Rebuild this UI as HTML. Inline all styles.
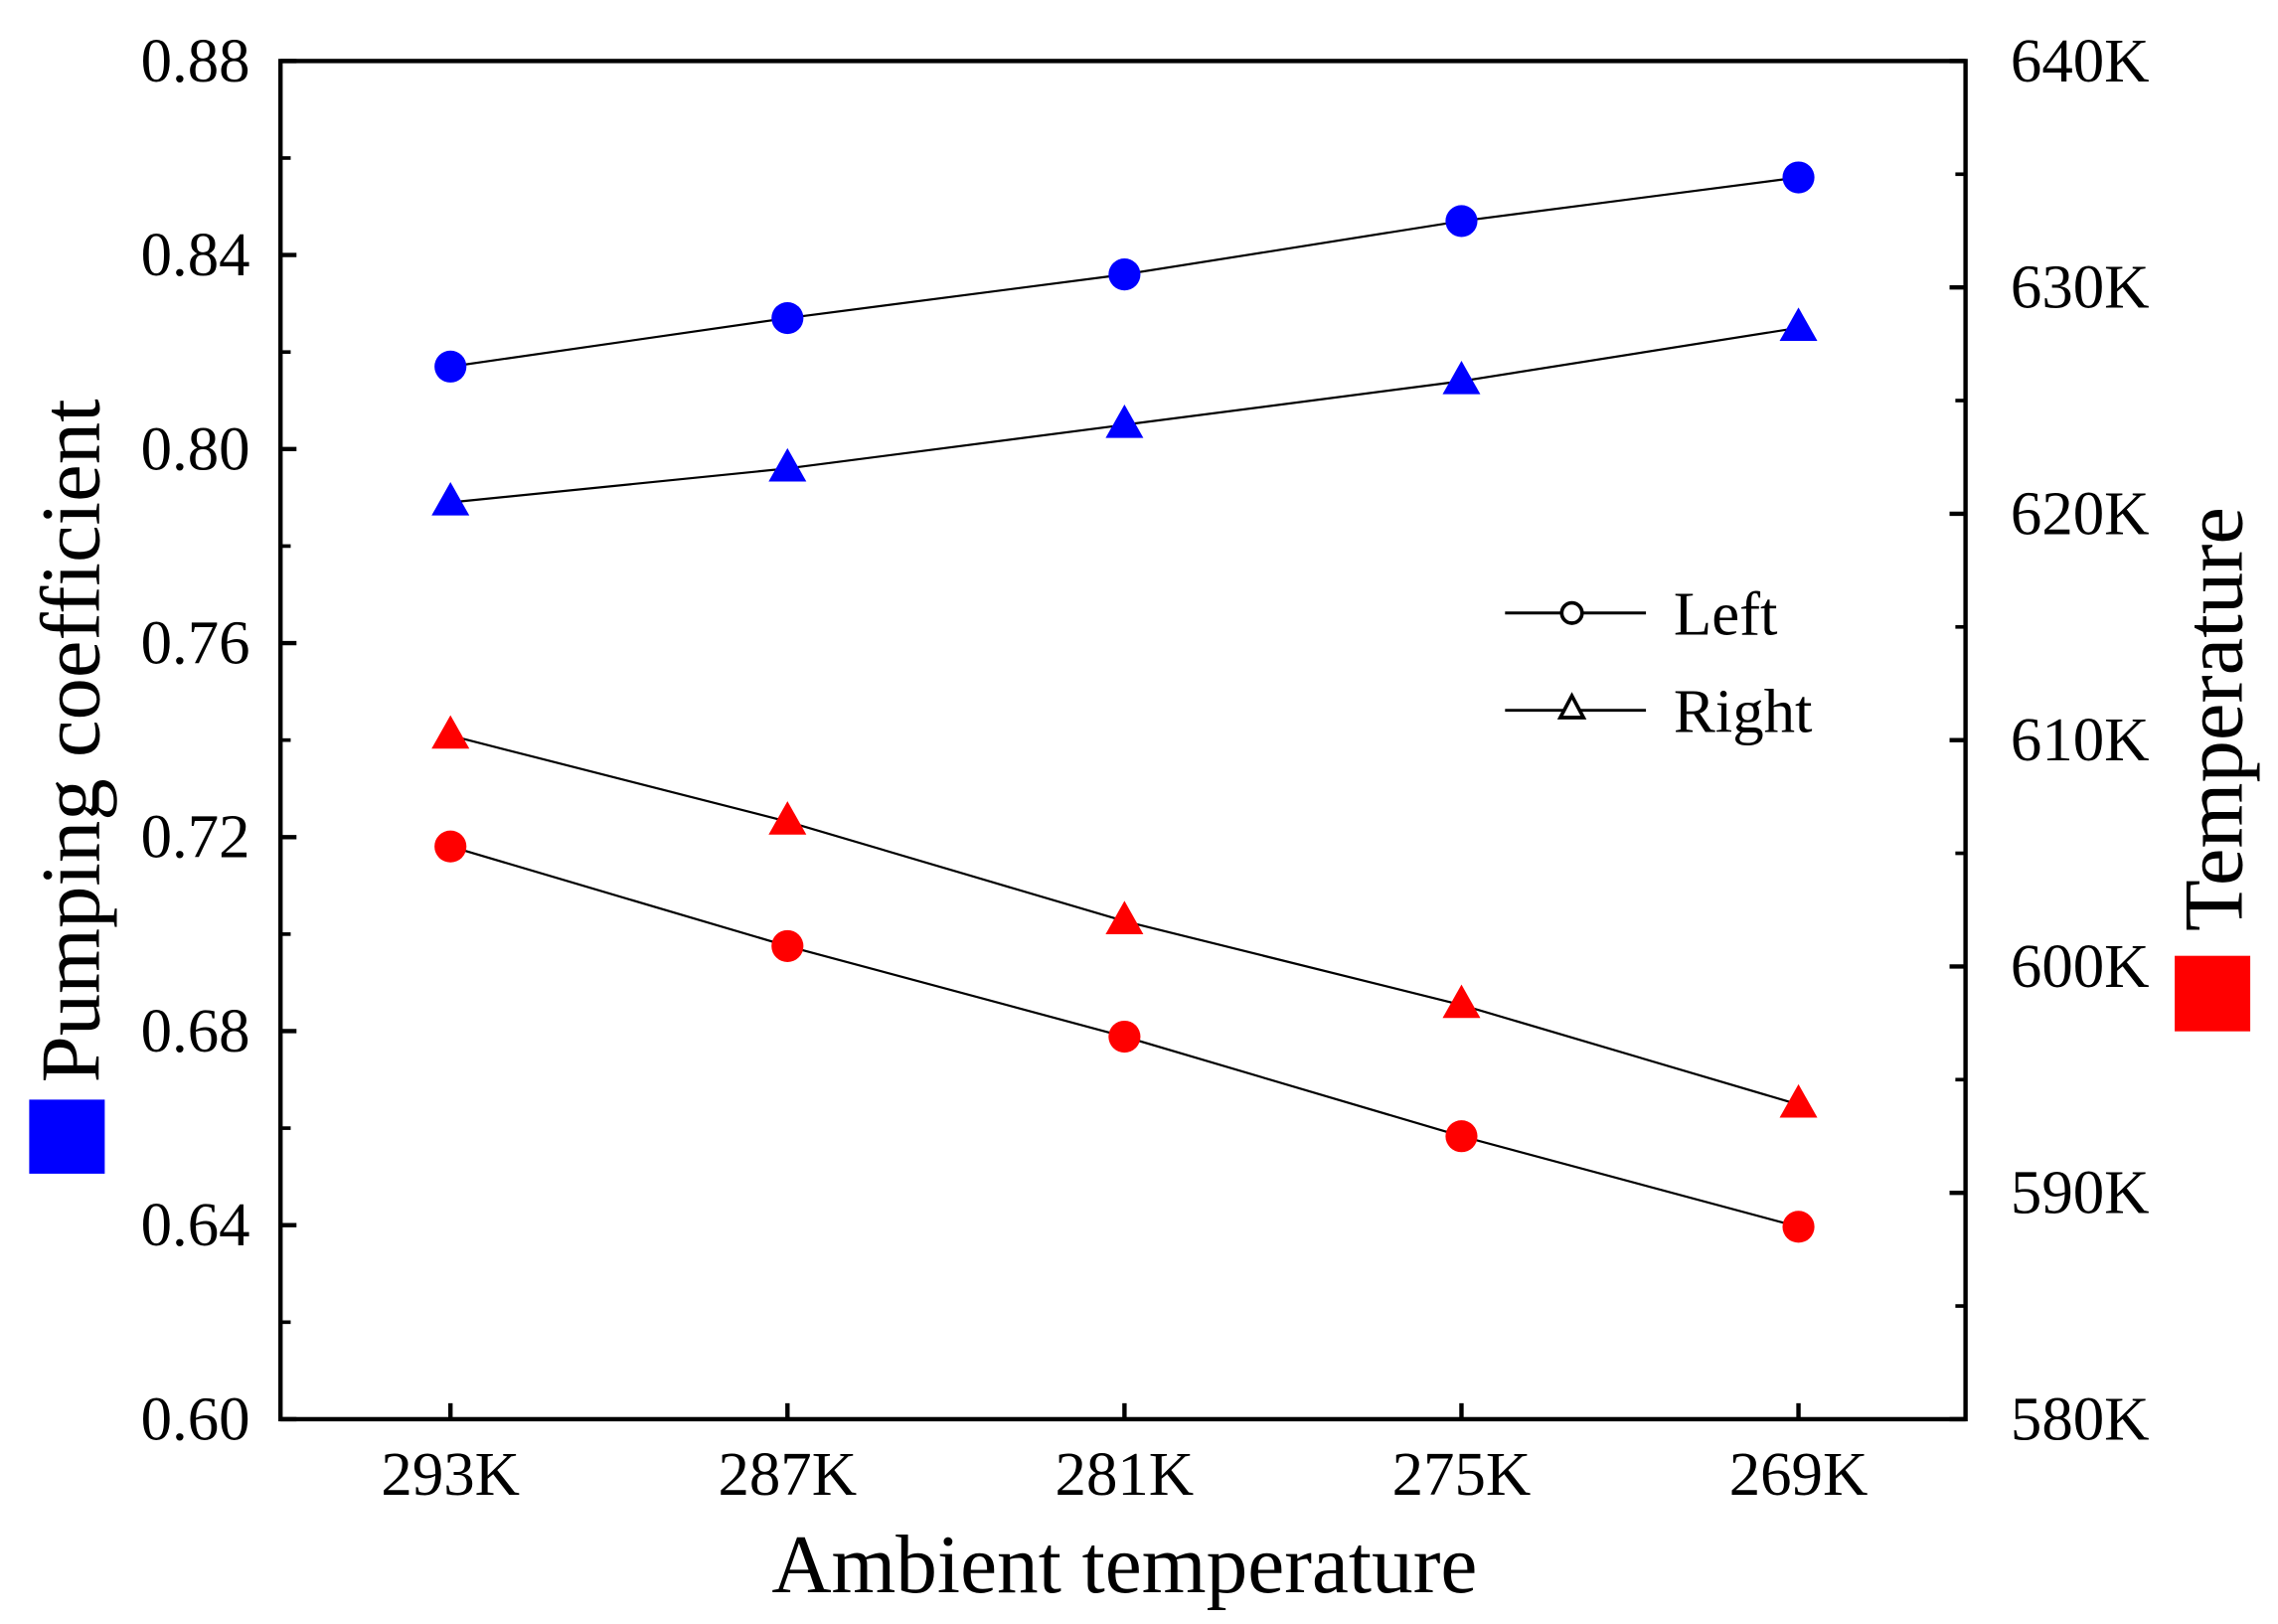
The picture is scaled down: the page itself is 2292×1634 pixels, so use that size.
<!DOCTYPE html>
<html><head><meta charset="utf-8"><style>
html,body{margin:0;padding:0;background:#fff;}
svg{display:block;font-family:"Liberation Serif",serif;}
</style></head><body>
<svg id="chart" width="2292" height="1634" viewBox="0 0 1568 1118" xmlns="http://www.w3.org/2000/svg">
<rect x="0" y="0" width="1568" height="1118" fill="#fff"/>
<g id="axes"></g>
<g id="marks"></g>
<g>
  <line x1="1036" y1="422" x2="1133" y2="422" stroke="#000" stroke-width="2"/>
  <circle cx="1082" cy="422" r="7" fill="#fff" stroke="#000" stroke-width="2.5"/>
  <text x="1152" y="437" font-size="43">Left</text>
  <line x1="1036" y1="489" x2="1133" y2="489" stroke="#000" stroke-width="2"/>
  <polygon points="1082,479 1074,494 1090,494" fill="#fff" stroke="#000" stroke-width="2.5"/>
  <text x="1152" y="504" font-size="43">Right</text>
</g>
<text x="774" y="1096" font-size="57" text-anchor="middle">Ambient temperature</text>
<text transform="translate(68,510) rotate(-90)" font-size="58" text-anchor="middle">Pumping coefficient</text>
<rect x="20" y="757" width="52" height="51" fill="#0000ff"/>
<text transform="translate(1543,495) rotate(-90)" font-size="58" text-anchor="middle">Temperature</text>
<rect x="1497" y="658" width="52" height="52" fill="#ff0000"/>
</svg>
<script>
const categories = ["293K","287K","281K","275K","269K"];
const leftTicks = ["0.60","0.64","0.68","0.72","0.76","0.80","0.84","0.88"];
const rightTicks = ["580K","590K","600K","610K","620K","630K","640K"];
const pumpLeft = [0.817,0.827,0.836,0.847,0.856];
const pumpRight = [0.789,0.796,0.805,0.814,0.825];
const tempLeft = [605.3,600.9,596.9,592.5,588.5];
const tempRight = [610.2,606.4,602.0,598.3,593.9];

const NS="http://www.w3.org/2000/svg";
const L=193,R=1353,T=42,B=977;
const xPos=i=>310+i*232;
const yL=v=>B-(v-0.60)/(0.88-0.60)*(B-T);
const yR=v=>B-(v-580)/(640-580)*(B-T);
function mk(tag,attrs,parent){const e=document.createElementNS(NS,tag);for(const k in attrs)e.setAttribute(k,attrs[k]);parent.appendChild(e);return e;}
const axes=document.getElementById('axes'), marks=document.getElementById('marks');
let fr=mk('rect',{x:L,y:T,width:R-L,height:B-T,fill:'none',stroke:'#000','stroke-width':3},axes);


leftTicks.forEach((t,i)=>{const v=parseFloat(t),y=yL(v);
  let tk=mk('line',{x1:L,x2:L+11,y1:y,y2:y,stroke:'#000','stroke-width':3},axes);
  
  
  if(i<leftTicks.length-1){let ym=yL(v+0.02);let m=mk('line',{x1:L,x2:L+7,y1:ym,y2:ym,stroke:'#000','stroke-width':2.5},axes);
    
    }
  let tx=mk('text',{x:L-21,y:y+14,'font-size':43,'text-anchor':'end'},axes);tx.textContent=t;
  
  
});
rightTicks.forEach((t,i)=>{const v=parseFloat(t),y=yR(v);
  let tk=mk('line',{x1:R-11,x2:R,y1:y,y2:y,stroke:'#000','stroke-width':3},axes);
  
  
  if(i<rightTicks.length-1){let ym=yR(v+5);let m=mk('line',{x1:R-7,x2:R,y1:ym,y2:ym,stroke:'#000','stroke-width':2.5},axes);
    
    }
  let tx=mk('text',{x:R+31,y:y+14,'font-size':43},axes);tx.textContent=t;
  
  
});
categories.forEach((c,i)=>{const x=xPos(i);
  let tk=mk('line',{x1:x,x2:x,y1:B-11,y2:B,stroke:'#000','stroke-width':3},axes);
  
  
  let tx=mk('text',{x:x,y:B+52,'font-size':43,'text-anchor':'middle'},axes);tx.textContent=c;
  
  
});
function series(vals,yf,color,shape,name){
  const pts=vals.map((v,i)=>xPos(i)+','+yf(v)).join(' ');
  let pl=mk('polyline',{points:pts,fill:'none',stroke:'#000','stroke-width':1.5},marks);
  
  
  vals.forEach((v,i)=>{const x=xPos(i),y=yf(v);let m;
    if(shape==='c')m=mk('circle',{cx:x,cy:y,r:11,fill:color},marks);
    else m=mk('polygon',{points:`${x},${y-14} ${x-13},${y+9} ${x+13},${y+9}`,fill:color},marks);
    
    
  });
}
series(pumpLeft,yL,'#0000ff','c','pumping-left');
series(pumpRight,yL,'#0000ff','t','pumping-right');
series(tempLeft,yR,'#ff0000','c','temperature-left');
series(tempRight,yR,'#ff0000','t','temperature-right');
</script>
</body></html>
